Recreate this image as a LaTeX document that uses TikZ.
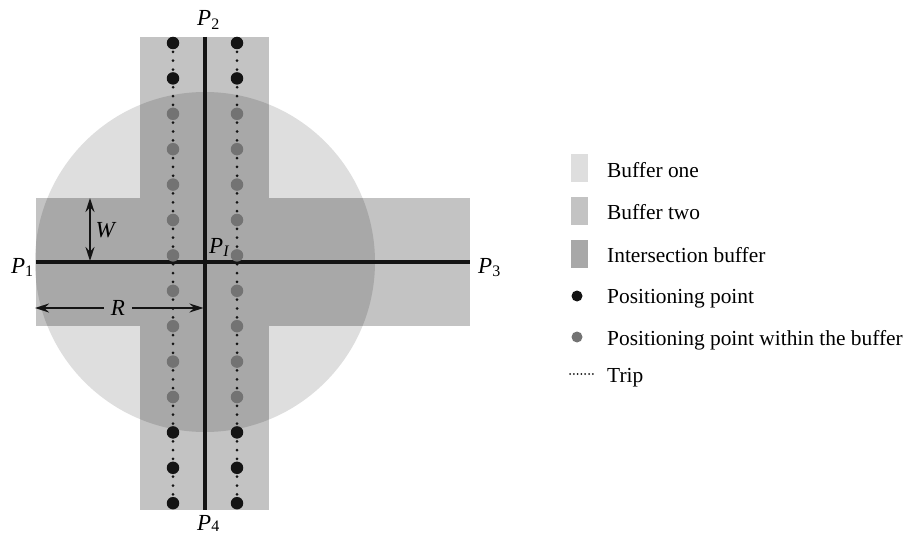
\documentclass[tikz,border=0pt]{standalone}
\usepackage{fontspec}
\setmainfont{Liberation Serif}
\usetikzlibrary{arrows.meta}
\definecolor{bufone}{gray}{0.87}
\definecolor{buftwo}{gray}{0.765}
\definecolor{bufint}{gray}{0.66}
\definecolor{ptgray}{gray}{0.45}
\definecolor{ink}{gray}{0.08}
\newcommand{\Plab}[1]{{\fontsize{23}{24}\selectfont\textit{P}}\raisebox{-0.4ex}{\fontsize{16}{16}\selectfont #1}}
\newcommand{\Plabb}[1]{{\fontsize{23}{24}\selectfont\textit{P}}\raisebox{-0.15ex}{\fontsize{16}{16}\selectfont #1}}
\begin{document}
\begin{tikzpicture}[x=1pt,y=-1pt,font=\fontsize{21.4}{24}\selectfont,
  road/.style={line width=3.5pt,draw=ink},
  trip/.style={line width=3pt,dash pattern=on 0pt off 8.85pt,line cap=round,draw=ink},
  bigpt/.style={circle,fill=ink,inner sep=0pt,minimum size=12.5pt},
  inpt/.style={circle,fill=ptgray,inner sep=0pt,minimum size=12.5pt},
  tipa/.tip={Stealth[length=14pt,width=9pt]},
  dimarrow/.style={line width=1.4pt,draw=ink,-tipa},
  leglabel/.style={anchor=base west,inner sep=0pt},
  plabel/.style={anchor=base west,inner sep=0pt},
  swatch/.style={inner sep=0pt,minimum width=17pt,minimum height=28pt}]
\useasboundingbox (0,0) rectangle (906,535);
% buffers
\fill[bufone] (205,262) circle (170);
\fill[buftwo] (140,37) rectangle (269,510);
\fill[buftwo] (36,198) rectangle (470,326);
\begin{scope}
  \clip (205,262) circle (170);
  \fill[bufint] (140,37) rectangle (269,510);
  \fill[bufint] (36,198) rectangle (470,326);
\end{scope}
% road ends
\coordinate (E1) at (36,262);
\coordinate (E3) at (470,262);
\coordinate (E2) at (205,37);
\coordinate (E4) at (205,510);
\draw[road] (E1) -- (E3);
\draw[road] (E2) -- (E4);
% trips
\coordinate (LT) at (173,43);
\coordinate (LB) at (173,503.2);
\coordinate (RT) at (237,43);
\coordinate (RB) at (237,503.2);
\draw[trip] (LT) -- (LB);
\draw[trip] (RT) -- (RB);
\foreach \i in {0,1,11,12,13}{
  \node[bigpt] (l\i) at (173,43+35.4*\i) {};
  \node[bigpt] (r\i) at (237,43+35.4*\i) {};
}
\foreach \i in {2,...,10}{
  \node[inpt] (l\i) at (173,43+35.4*\i) {};
  \node[inpt] (r\i) at (237,43+35.4*\i) {};
}
% dimensions
\coordinate (Wt) at (90,198);
\coordinate (Wb) at (90,261);
\draw[line width=1.4pt,draw=ink,tipa-tipa] (Wt) -- (Wb);
\node[inner sep=0pt,font=\fontsize{23}{24}\selectfont] (W) at (106,230) {\textit{W}};
\node[fill=bufint,inner sep=0pt,minimum width=28pt,minimum height=14pt,font=\fontsize{23}{24}\selectfont] (R) at (118,308) {\textit{R}};
\coordinate (Rl) at (35,308);
\coordinate (Rr) at (203.5,308);
\draw[dimarrow] (R.west) -- (Rl);
\draw[dimarrow] (R.east) -- (Rr);
% point labels
\node[plabel] (P1) at (11,273) {\Plab{1}};
\node[plabel] (P2) at (197,26) {\Plab{2}};
\node[plabel] (P3) at (478,273) {\Plab{3}};
\node[plabel] (P4) at (197,530) {\Plabb{4}};
\node[plabel] (PI) at (209,253) {\Plab{\textit{I}}};
% legend
\node[swatch,fill=bufone] (s1) at (579.5,168) {};
\node[swatch,fill=buftwo] (s2) at (579.5,211) {};
\node[swatch,fill=bufint] (s3) at (579.5,254) {};
\node[bigpt,minimum size=11pt] (s4) at (577,296) {};
\node[inpt,minimum size=11pt] (s5) at (577,337) {};
\coordinate (s6a) at (570,374);
\coordinate (s6b) at (593,374);
\draw[line width=2pt,draw=ink,dash pattern=on 0pt off 3.8pt,line cap=round] (s6a) -- (s6b);
\node[leglabel] (t1) at (607,177) {Buffer one};
\node[leglabel] (t2) at (607,219) {Buffer two};
\node[leglabel] (t3) at (607,262) {Intersection buffer};
\node[leglabel] (t4) at (607,303) {Positioning point};
\node[leglabel] (t5) at (607,345) {Positioning point within the buffer};
\node[leglabel] (t6) at (607,382) {Trip};
\end{tikzpicture}
\end{document}
